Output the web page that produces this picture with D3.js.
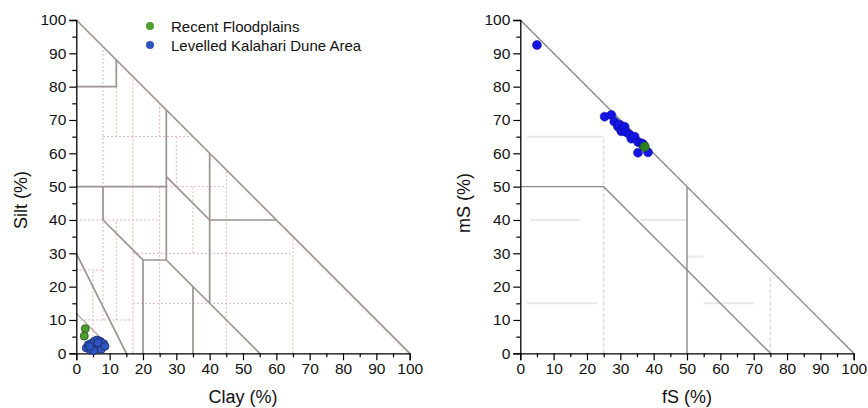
<!DOCTYPE html>
<html>
<head>
<meta charset="utf-8">
<script src="https://cdn.jsdelivr.net/npm/d3@7/dist/d3.min.js"></script>
<style>
  html, body { margin: 0; padding: 0; background: #fff; }
  svg { display: block; font-family: "Liberation Sans", Arial, sans-serif; }
</style>
</head>
<body>
<svg id="chart" width="868" height="408"></svg>
<script>
// ---------- data ----------
const tickValues = [0, 10, 20, 30, 40, 50, 60, 70, 80, 90, 100];
const minorTicks = [5, 15, 25, 35, 45, 55, 65, 75, 85, 95];
const seriesNames = ["Recent Floodplains", "Levelled Kalahari Dune Area"];

// left: Clay (%) vs Silt (%)
const floodClay = [2.7, 2.4];
const floodSilt = [7.4, 5.2];
const duneClay = [3.0, 3.6, 4.2, 4.6, 5.0, 5.4, 5.9, 6.2, 6.8, 7.2, 7.5, 8.2, 8.6, 5.2, 4.0, 6.5];
const duneSilt = [1.6, 2.6, 1.0, 3.0, 2.0, 3.6, 1.4, 4.0, 2.6, 3.6, 1.2, 2.9, 2.1, 0.8, 2.0, 3.2];

// right: fS (%) vs mS (%)
const floodFS = [37.3];
const floodMS = [62.0];
const duneFS = [5.0, 25.3, 27.3, 28.2, 29.3, 29.8, 30.3, 30.8, 31.3, 31.8, 32.8, 33.3, 34.3, 35.3, 36.3, 35.3, 38.3, 36.8];
const duneMS = [92.5, 71.0, 71.5, 69.5, 68.0, 68.6, 66.6, 67.2, 68.0, 66.4, 65.6, 64.4, 65.0, 63.4, 63.0, 60.2, 60.3, 62.8];

// soil texture boundaries (solid), left diagram [clay, silt]
const leftSolid = [
  [[0,100],[100,0]],
  [[0,80],[12,80],[12,88]],
  [[0,50],[27,50]],
  [[27,73],[27,28]],
  [[8,50],[8,40],[20,28]],
  [[20,0],[20,28],[27,28],[55,0]],
  [[27,53],[40,40],[60,40]],
  [[40,60],[40,15]],
  [[35,20],[35,0]],
  [[0,30],[15,0]]
];
const leftThin = [[[0,12],[9.3,2.7]]];
// KA5 class boundaries (dotted), left diagram
const leftDotted = [
  [[5,0],[5,25]], [[8,10],[8,92]], [[12,10],[12,40]], [[12,65],[12,80]],
  [[17,0],[17,83]], [[25,0],[25,50]], [[25,65],[25,75]], [[30,50],[30,65]],
  [[35,0],[35,15]], [[35,30],[35,50]], [[45,0],[45,55]], [[65,0],[65,35]],
  [[8,65],[35,65]], [[27,50],[45,50]], [[0,40],[25,40]], [[17,30],[65,30]],
  [[0,25],[8,25]], [[17,15],[65,15]], [[0,10],[17,10]]
];
// right diagram [fS, mS]
const rightSolid = [
  [[0,100],[100,0]],
  [[0,50],[25,50],[75,0]],
  [[50,50],[50,0]]
];
const rightFaint = [
  [[2,65],[25,65]], [[2,15],[23,15]], [[55,15],[70,15]], [[36,40],[50,40]],
  [[3,40],[18,40]], [[50,29],[55,29]]
];
const rightFaintDashed = [
  [[25,0],[25,65]], [[75,0],[75,23]]
];

// ---------- drawing ----------
const svg = d3.select("#chart");

function panel(opts) {
  const x = d3.scaleLinear().domain([0, 100]).range([opts.x0, opts.x1]);
  const y = d3.scaleLinear().domain([0, 100]).range([opts.y0, opts.y1]);
  const g = svg.append("g");
  const line = d3.line().x(d => x(d[0])).y(d => y(d[1]));

  (opts.faint || []).forEach(p => g.append("path").attr("d", line(p))
    .attr("fill", "none").attr("stroke", "#e8e8e8").attr("stroke-width", 2));
  (opts.faintDashed || []).forEach(p => g.append("path").attr("d", line(p))
    .attr("fill", "none").attr("stroke", "#dedede").attr("stroke-width", 1.5)
    .attr("stroke-dasharray", "4,2"));
  (opts.dotted || []).forEach(p => g.append("path").attr("d", line(p))
    .attr("fill", "none").attr("stroke", "#dcb4b4").attr("stroke-width", 1)
    .attr("stroke-dasharray", "2,2"));
  (opts.thin || []).forEach(p => g.append("path").attr("d", line(p))
    .attr("fill", "none").attr("stroke", "#aaa0a0").attr("stroke-width", 1.2));
  (opts.solid || []).forEach(p => g.append("path").attr("d", line(p))
    .attr("fill", "none").attr("stroke", opts.lineColor).attr("stroke-width", opts.lineWidth)
    .attr("stroke-linejoin", "miter"));

  // axes
  const xAxis = d3.axisBottom(x).tickValues(tickValues).tickSize(7).tickPadding(3).tickFormat(d3.format("d"));
  const yAxis = d3.axisLeft(y).tickValues(tickValues).tickSize(7).tickPadding(3).tickFormat(d3.format("d"));
  const xMinor = d3.axisBottom(x).tickValues(minorTicks).tickSize(4).tickFormat("");
  const yMinor = d3.axisLeft(y).tickValues(minorTicks).tickSize(4).tickFormat("");

  const gx = g.append("g").attr("transform", `translate(0,${opts.y0})`).call(xAxis);
  g.append("g").attr("transform", `translate(0,${opts.y0})`).call(xMinor).select(".domain").remove();
  const gy = g.append("g").attr("transform", `translate(${opts.x0},0)`).call(yAxis);
  g.append("g").attr("transform", `translate(${opts.x0},0)`).call(yMinor).select(".domain").remove();
  [gx, gy].forEach(a => {
    a.select(".domain").attr("stroke", "#000").attr("stroke-width", 1.3);
    a.selectAll(".tick text").attr("font-size", 15.5).attr("fill", "#111")
      .attr("font-family", "Liberation Sans, Arial, sans-serif");
  });
  g.selectAll("g.tick line").attr("stroke", "#000").attr("stroke-width", 1.2);

  // titles
  g.append("text").attr("x", (opts.x0 + opts.x1) / 2 + opts.xTitleDx).attr("y", 403)
    .attr("text-anchor", "middle").attr("font-size", 18).attr("fill", "#111").text(opts.xTitle);
  g.append("text").attr("transform", `translate(${opts.yTitleX},${opts.yTitleY}) rotate(-90)`)
    .attr("text-anchor", "middle").attr("font-size", 18).attr("fill", "#111").text(opts.yTitle);

  // points
  opts.series.forEach(s => {
    g.selectAll(null).data(d3.range(s.xs.length)).enter().append("circle")
      .attr("cx", i => x(s.xs[i])).attr("cy", i => y(s.ys[i])).attr("r", s.r)
      .attr("fill", s.fill).attr("stroke", s.stroke).attr("stroke-width", s.sw);
  });
  return g;
}

panel({
  x0: 76.3, x1: 409.7, y0: 353.3, y1: 20,
  solid: leftSolid, thin: leftThin, dotted: leftDotted,
  lineColor: "#9c9292", lineWidth: 1.7,
  xTitle: "Clay (%)", yTitle: "Silt (%)", xTitleDx: 0, yTitleX: 27, yTitleY: 200,
  series: [
    { xs: duneClay, ys: duneSilt, fill: "#2f55c0", stroke: "#1c2a66", sw: 0.8, r: 4 },
    { xs: floodClay, ys: floodSilt, fill: "#4f9f2f", stroke: "#2a4a1a", sw: 0.8, r: 4 }
  ]
});

panel({
  x0: 520.3, x1: 853.7, y0: 353.3, y1: 20,
  solid: rightSolid, faint: rightFaint, faintDashed: rightFaintDashed,
  lineColor: "#8a8a8a", lineWidth: 1.4,
  xTitle: "fS (%)", yTitle: "mS (%)", xTitleDx: 0, yTitleX: 470, yTitleY: 203,
  series: [
    { xs: duneFS, ys: duneMS, fill: "#1414e6", stroke: "#0a0a80", sw: 0.5, r: 4.5 },
    { xs: floodFS, ys: floodMS, fill: "#2a7f22", stroke: "#164a12", sw: 0.6, r: 4.7 }
  ]
});

// legend
const legendColors = ["#4f9f2f", "#2f55c0"];
const legend = svg.append("g");
seriesNames.forEach((name, i) => {
  legend.append("circle").attr("cx", 150).attr("cy", 26 + i * 19).attr("r", 4)
    .attr("fill", legendColors[i]);
  legend.append("text").attr("x", 171).attr("y", 32 + i * 19).attr("font-size", 15)
    .attr("fill", "#111").text(name);
});
</script>
</body>
</html>
